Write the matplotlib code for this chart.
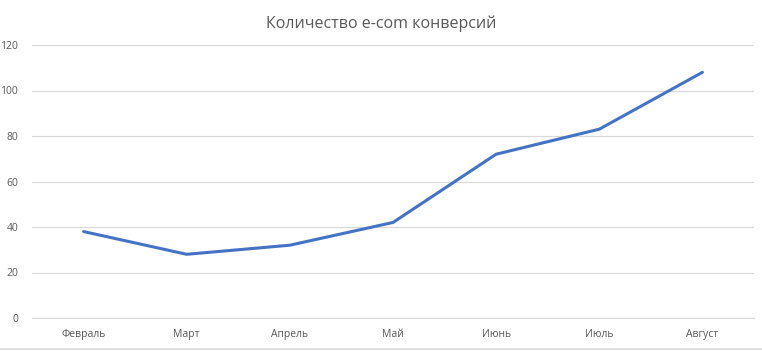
"""
Line chart: e-com conversions by month
"""

import matplotlib

matplotlib.use('Agg')
import matplotlib.pyplot as plt
from matplotlib.lines import Line2D

months = ['Февраль', 'Март', 'Апрель', 'Май', 'Июнь', 'Июль', 'Август']
conversions = [38, 28, 32, 42, 72, 83, 108]
y_ticks = [0, 20, 40, 60, 80, 100, 120]
title = 'Количество e-com конверсий'

TEXT = '#595959'
GRID = '#d9d9d9'
LINE = '#4472c4'

plt.rcParams['font.family'] = ['Open Sans', 'DejaVu Sans']

fig = plt.figure(figsize=(7.62, 3.51), dpi=100)
ax = fig.add_axes([32 / 762, 33 / 351, 722 / 762, 273 / 351])

x = list(range(len(months)))
ax.plot(x, conversions, color=LINE, linewidth=2.2, solid_joinstyle='round', solid_capstyle='round')

ax.set_xlim(-0.5, len(months) - 0.5)
ax.set_ylim(0, 120)
ax.set_xticks(x)
ax.set_xticklabels(months)
ax.set_yticks(y_ticks)
ax.tick_params(axis='both', length=0, labelsize=7.5, labelcolor=TEXT)
ax.tick_params(axis='x', pad=8)
ax.tick_params(axis='y', pad=10)
ax.grid(axis='y', color=GRID, linewidth=0.9)
ax.set_axisbelow(True)
for side in ['top', 'right', 'left']:
    ax.spines[side].set_visible(False)
ax.spines['bottom'].set_color(GRID)
ax.spines['bottom'].set_linewidth(0.9)

fig.suptitle(title, y=0.955, fontsize=11.5, color=TEXT)

# chart area border at the bottom
fig.add_artist(Line2D([0, 1], [2 / 351, 2 / 351], color=GRID, linewidth=1.2, transform=fig.transFigure))

fig.savefig('out.png', dpi=100)
plt.close(fig)
